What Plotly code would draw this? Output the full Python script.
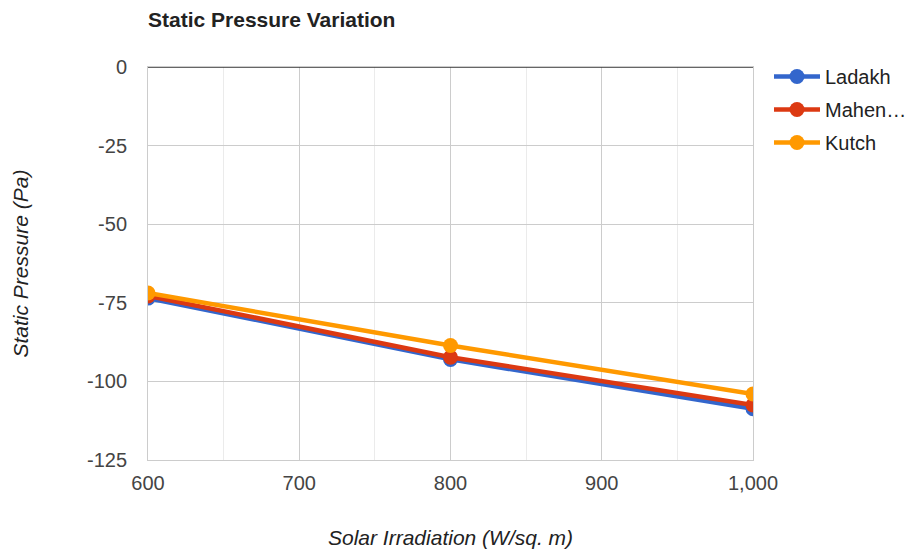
import plotly.graph_objects as go

irradiation = [600, 800, 1000]
ladakh = [-73.5, -93.0, -108.7]
mahendragarh = [-72.8, -92.3, -107.5]
kutch = [-71.9, -88.6, -104.0]

series_names = ["Ladakh", "Mahen…", "Kutch"]
series_values = [ladakh, mahendragarh, kutch]
series_colors = ["#3366cc", "#dc3912", "#ff9900"]

y_tick_vals = [0, -25, -50, -75, -100, -125]
y_tick_text = ["0", "-25", "-50", "-75", "-100", "-125"]
x_tick_vals = [600, 700, 800, 900, 1000]
x_tick_text = ["600", "700", "800", "900", "1,000"]

FONT = "Liberation Sans, Arial, sans-serif"

fig = go.Figure()
for name, vals, col in zip(series_names, series_values, series_colors):
    fig.add_trace(go.Scatter(
        x=irradiation, y=vals, name=name, mode="lines+markers",
        legendgroup=name,
        line=dict(color=col, width=4.5),
        marker=dict(color=col, size=15),
    ))

W, H = 911, 550
L, R, T, B = 148, 158, 67, 90
pw = W - L - R
ph = H - T - B

fig.update_layout(
    width=W, height=H,
    margin=dict(l=L, r=R, t=T, b=B, autoexpand=False),
    plot_bgcolor="white", paper_bgcolor="white",
    font=dict(family=FONT, color="#444", size=20),
    title=dict(text="<b>Static Pressure Variation</b>", x=L / W, xanchor="left",
               xref="container", y=1 - 20 / H, yref="container", yanchor="middle",
               font=dict(size=21, color="#222", family=FONT)),
    showlegend=True,
    legend=dict(x=1 + (769 - (W - R)) / pw, y=1 + 10 / ph, xanchor="left", yanchor="top",
                font=dict(size=20, color="#222", family=FONT),
                tracegroupgap=4, itemwidth=46),
    xaxis=dict(range=[600, 1000], tickvals=x_tick_vals, ticktext=x_tick_text,
               showgrid=True, gridcolor="#cccccc", gridwidth=1,
               minor=dict(dtick=50, showgrid=True, gridcolor="#ebebeb"),
               showline=True, mirror=True, linecolor="#cccccc",
               zeroline=False, ticks="", ticklabelstandoff=5,
               tickfont=dict(size=20, color="#444")),
    yaxis=dict(range=[-125, 0], tickvals=y_tick_vals, ticktext=y_tick_text,
               showgrid=True, gridcolor="#cccccc", gridwidth=1,
               showline=True, mirror=True, linecolor="#cccccc",
               zeroline=False, ticks="", ticklabelstandoff=16,
               tickfont=dict(size=20, color="#444")),
    annotations=[
        dict(text="<i>Static Pressure (Pa)</i>", xref="paper", yref="paper",
             x=(20 - L) / pw, y=0.5, textangle=-90, showarrow=False,
             xanchor="center", yanchor="middle",
             font=dict(size=21, color="#222", family=FONT)),
        dict(text="<i>Solar Irradiation (W/sq. m)</i>", xref="paper", yref="paper",
             x=0.5, y=-(537 - (T + ph)) / ph, showarrow=False,
             xanchor="center", yanchor="middle",
             font=dict(size=21, color="#222", family=FONT)),
    ],
    shapes=[dict(type="line", xref="paper", yref="y", x0=0, x1=1, y0=0, y1=0,
                 line=dict(color="#333333", width=1.5))],
)

fig.write_html("out.html")
